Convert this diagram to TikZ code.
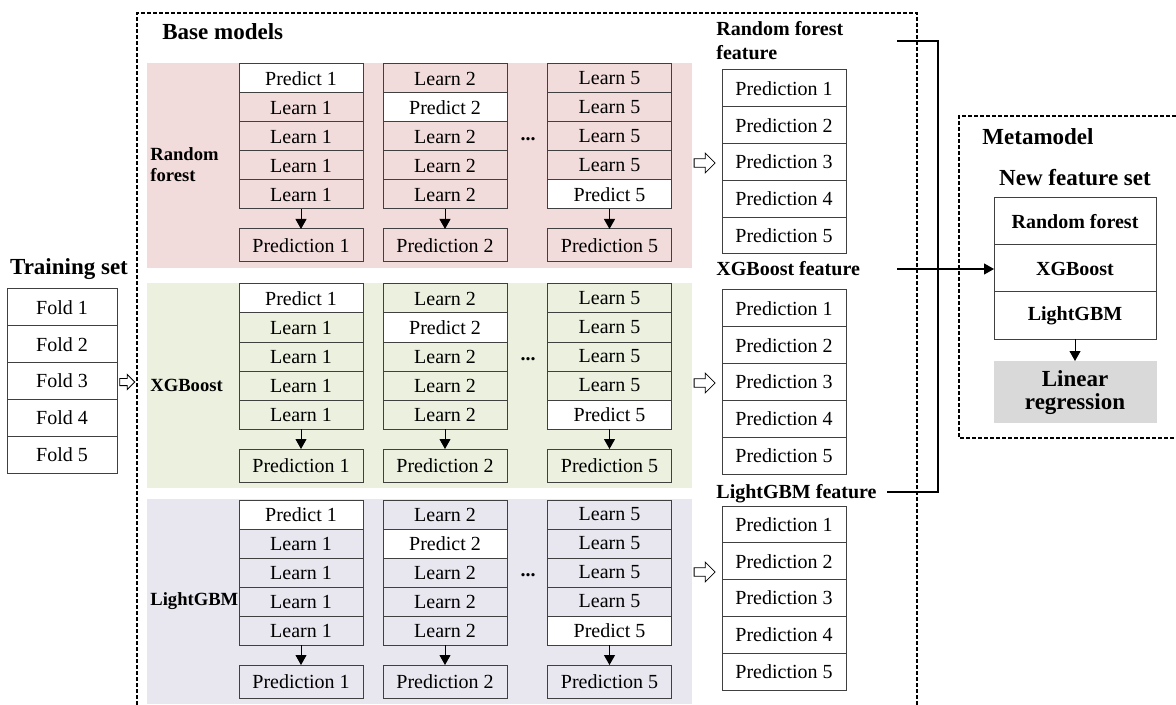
\documentclass[tikz,border=0pt]{standalone}
\usepackage{fontspec}
\setmainfont{Liberation Serif}
\usetikzlibrary{positioning, arrows.meta, shapes.arrows}
\definecolor{rf-pink}{HTML}{F2DCDB}
\definecolor{xgb-green}{HTML}{EBF1DE}
\definecolor{lgb-lilac}{HTML}{E8E6EE}
\definecolor{meta-grey}{HTML}{D9D9D9}
\definecolor{edge-grey}{HTML}{404040}

\tikzset{
  cell/.style={draw=edge-grey, line width=0.5pt, minimum width=62pt, minimum height=14.5pt,
               inner sep=0pt, outer sep=0pt, font=\fontsize{10}{12}\selectfont},
  foldbox/.style={cell, fill=white, minimum width=55pt, minimum height=18.4pt},
  featbox/.style={cell, fill=white, minimum height=18.4pt},
  metabox/.style={cell, fill=white, minimum width=81pt, minimum height=23.5pt,
                  font=\fontsize{10}{12}\selectfont\bfseries},
  heading/.style={font=\fontsize{11.5}{13}\selectfont\bfseries, inner sep=0pt},
  sidelabel/.style={font=\fontsize{9.3}{10.5}\selectfont\bfseries, align=left, inner sep=0pt, anchor=west},
  featlabel/.style={font=\fontsize{10}{12}\selectfont\bfseries, align=left, inner sep=0pt, anchor=west},
  tip/.style={-{Triangle[width=5.5pt,length=5pt]}, line width=0.5pt},
  hollow/.style={single arrow, draw=black, fill=white, line width=0.4pt, minimum height=10pt,
                 single arrow head extend=2.8pt, inner sep=1.9pt},
  fence/.style={line width=0.75pt, dash pattern=on 2pt off 1pt}
}

\begin{document}
\begin{tikzpicture}[x=0.5pt, y=-0.5pt]
  \useasboundingbox (0,0) rectangle (1176,705);
  % training set
  \node[heading] (train) at (69,269) {Training set};
  \foreach \r in {1,...,5}
    \node[foldbox, anchor=north] (fold\r) at (62,{289+(\r-1)*36.8}) {Fold \r};
  \node[hollow, minimum height=7.5pt, single arrow head extend=2pt, inner sep=1.6pt] (train-arr) at (125.5,382) {};
  % base models
  \draw[fence] (137,705) |- (917,13) -- (917,705);
  \node[heading, anchor=west] (base) at (162,32) {Base models};
  \foreach \band/\ytop/\col/\lab/\arr in {rf/64/rf-pink/{Random\\forest}/163,
      xgb/284/xgb-green/XGBoost/383, lgb/500/lgb-lilac/LightGBM/572}{
    \fill[\col] (147,\ytop-1) rectangle (692,\ytop+204);
    \node[sidelabel] (\band-lab) at (150,\ytop+101) {\lab};
    \foreach \c/\cx/\k in {1/301/1, 2/445/2, 3/609.5/5}{
      \foreach \r in {1,...,5}{
        \ifnum\r=\k \def\cellfill{white}\def\celltext{Predict}\else\def\cellfill{\col}\def\celltext{Learn}\fi
        \node[cell, fill=\cellfill, anchor=north] (\band-\c-\r) at (\cx,{\ytop+(\r-1)*29}) {\celltext\ \k};
      }
      \node[cell, fill=\col, minimum height=16.5pt, below=10pt of \band-\c-5] (\band-\c-p) {Prediction \k};
      \draw[tip] (\band-\c-5) -- (\band-\c-p);
    }
    \node[font=\fontsize{10}{12}\selectfont\bfseries, inner sep=0pt] (\band-dots) at (528,\ytop+75) {...};
    \node[hollow, minimum height=10.5pt] (\band-arr) at (702.5,\arr) {};
    \foreach \r in {1,...,5}
      \node[featbox, anchor=north] (\band-f\r) at (784,{\ytop+6+(\r-1)*36.8}) {Prediction \r};
  }
  % feature labels and bus
  \node[featlabel] (rf-feat) at (716,41) {Random forest\\feature};
  \node[featlabel] (xgb-feat) at (716,269) {XGBoost feature};
  \node[featlabel] (lgb-feat) at (716,494) {LightGBM feature};
  \coordinate (rf-end) at (897,41);
  \coordinate (xgb-end) at (897,269);
  \coordinate (lgb-end) at (887,492);
  \coordinate (bus-top) at (938,41);
  \coordinate (bus-bot) at (938,492);
  % metamodel
  \draw[fence] (1176,116) -| (959,438) -- (1176,438);
  \node[heading, anchor=west] (meta) at (982,137) {Metamodel};
  \node[heading] (newset) at (1075,178) {New feature set};
  \node[metabox, anchor=north] (M1) at (1075,198) {Random forest};
  \node[metabox, below=0pt of M1] (M2) {XGBoost};
  \node[metabox, below=0pt of M2] (M3) {LightGBM};
  \node[fill=meta-grey, minimum width=81.5pt, minimum height=31pt, inner sep=0pt, align=center,
        font=\fontsize{11.5}{11.5}\selectfont\bfseries, below=11pt of M3] (linreg) {Linear\\regression};
  \draw[tip] (M3) -- (linreg);
  \draw[line width=0.6pt] (rf-end) -- (bus-top) -- (bus-bot) -- (lgb-end);
  \draw[tip, line width=0.6pt] (xgb-end) -- (xgb-end -| M2.west);
\end{tikzpicture}
\end{document}
